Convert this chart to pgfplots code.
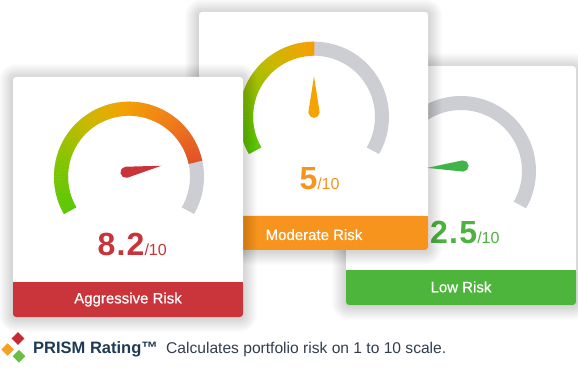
\documentclass[border=0pt]{standalone}
\usepackage{pgfplots}
\pgfplotsset{compat=1.18}
\usepackage{fontspec}
\setmainfont{Liberation Sans}
\newfontfamily\numfont{Liberation Sans}[LetterSpace=4]
\newfontfamily\medfont{Liberation Sans}[FakeBold=0.7]

\definecolor{cardred}{RGB}{201,53,58}
\definecolor{cardorange}{RGB}{247,148,29}
\definecolor{cardgreen}{RGB}{77,181,60}
\definecolor{numred}{RGB}{200,52,58}
\definecolor{numorange}{RGB}{247,148,29}
\definecolor{numgreen}{RGB}{76,178,64}
\definecolor{needlered}{RGB}{200,52,58}
\definecolor{needleorange}{RGB}{244,163,0}
\definecolor{needlegreen}{RGB}{64,180,72}
\definecolor{gaugegray}{RGB}{205,206,211}
\definecolor{navy}{RGB}{30,58,85}
\definecolor{footgray}{RGB}{50,62,78}
\definecolor{logored}{RGB}{198,43,53}
\definecolor{logoorange}{RGB}{244,160,36}
\definecolor{logogreen}{RGB}{107,190,69}
% gradient stops along the gauge (0 = left end, 1000 = right end)
\definecolor{s0}{RGB}{92,200,5}
\definecolor{s1}{RGB}{140,196,0}
\definecolor{s2}{RGB}{205,184,0}
\definecolor{s3}{RGB}{243,162,0}
\definecolor{s4}{RGB}{240,126,24}
\definecolor{s5}{RGB}{226,82,40}
\definecolor{s6}{RGB}{210,55,50}

\foreach \i in {0,...,95}{%
  \pgfmathsetmacro\tv{\i*10.5263}%
  \ifdim\tv pt<200pt \def\ca{s0}\def\cb{s1}\pgfmathtruncatemacro\p{\tv/2}%
  \else\ifdim\tv pt<350pt \def\ca{s1}\def\cb{s2}\pgfmathtruncatemacro\p{(\tv-200)/1.5}%
  \else\ifdim\tv pt<480pt \def\ca{s2}\def\cb{s3}\pgfmathtruncatemacro\p{(\tv-350)/1.3}%
  \else\ifdim\tv pt<650pt \def\ca{s3}\def\cb{s4}\pgfmathtruncatemacro\p{(\tv-480)/1.7}%
  \else\ifdim\tv pt<820pt \def\ca{s4}\def\cb{s5}\pgfmathtruncatemacro\p{(\tv-650)/1.7}%
  \else \def\ca{s5}\def\cb{s6}\pgfmathtruncatemacro\p{min(100,(\tv-820)/1.8)}%
  \fi\fi\fi\fi\fi
  \xglobal\colorlet{seg\i}{\cb!\p!\ca}%
}

% gauge values
\def\valA{8.2}
\def\valB{5}
\def\valC{2.5}

\newcommand\card[6]{% x1 y1 x2 y2 bartop barcolor
  \foreach \k in {1,...,14}{%
    \pgfmathsetmacro\rr{3+\k}%
    \fill[black, opacity=0.011, rounded corners=\rr pt] (#1-\k,#2-\k-1) rectangle (#3+\k,#4+\k-1);
  }
  \fill[white, rounded corners=3pt] (#1,#2) rectangle (#3,#4);
  \fill[#6, rounded corners=3pt] (#1,#2) rectangle (#3,#5);
  \fill[#6] (#1,#2+4) rectangle (#3,#5);
}

\newcommand\gauge[3]{% cx cy value
  \draw[gaugegray, line width=14pt] (#1,#2) ++(210:68pt) arc[start angle=210, end angle=-30, radius=68pt];
  \pgfmathtruncatemacro\nseg{round(#3*9.6)-1}%
  \foreach \i in {0,...,\nseg}{%
    \draw[color=seg\i, line width=14pt] (#1,#2) ++({210-2.5*\i}:68pt) arc[start angle={210-2.5*\i}, end angle={210-2.5*(\i+1)-0.3}, radius=68pt];
  }
}

\pgfdeclareplotmark{needle}{%
  \pgfpathcircle{\pgfpointorigin}{5.6pt}%
  \pgfusepathqfill
  \pgfpathmoveto{\pgfpoint{0.9pt}{5.5pt}}%
  \pgfpathlineto{\pgfpoint{36pt}{0pt}}%
  \pgfpathlineto{\pgfpoint{0.9pt}{-5.5pt}}%
  \pgfpathclose
  \pgfusepathqfill
}

\newcommand\score[2]{{\numfont\fontsize{32}{32}\selectfont\bfseries #1}{\fontsize{16}{16}\selectfont /10}}

\begin{document}
\begin{tikzpicture}[x=1pt,y=1pt]
\useasboundingbox (0,0) rectangle (578,367);
\fill[white] (0,0) rectangle (578,367);

% ---- card 3 (back): Low Risk
\card{346}{62}{576}{301}{97}{cardgreen}
\gauge{461}{196}{\valC}
\node[anchor=base west, inner sep=0, text=numgreen] at (430,123.7) {\score{2.5}{}};
\node[anchor=base, inner sep=0, text=white, font=\medfont\fontsize{15}{18}\selectfont] at (461,74.7) {Low Risk};

% ---- card 2 (middle): Moderate Risk
\card{199}{117}{428}{355}{151}{cardorange}
\gauge{314}{250.3}{\valB}
\node[anchor=base west, inner sep=0, text=numorange] at (299.3,177.7) {\score{5}{}};
\node[anchor=base, inner sep=0, text=white, font=\medfont\fontsize{15}{18}\selectfont] at (314,127) {Moderate Risk};

% ---- card 1 (front): Aggressive Risk
\card{13}{50}{243}{290}{85}{cardred}
\gauge{129}{190.3}{\valA}
\node[anchor=base west, inner sep=0, text=numred] at (97.3,111.5) {\score{8.2}{}};
\node[anchor=base, inner sep=0, text=white, font=\medfont\fontsize{15}{18}\selectfont] at (128,63.6) {Aggressive Risk};

% ---- footer
\fill[logored] (18,28.5) ++(0,6.3) -- ++(6.3,-6.3) -- ++(-6.3,-6.3) -- ++(-6.3,6.3) -- cycle;
\fill[logoorange] (7.6,17.5) ++(0,6.3) -- ++(6.3,-6.3) -- ++(-6.3,-6.3) -- ++(-6.3,6.3) -- cycle;
\fill[logogreen] (19,10.8) ++(0,6.3) -- ++(6.3,-6.3) -- ++(-6.3,-6.3) -- ++(-6.3,6.3) -- cycle;
\node[anchor=base west, inner sep=0, text=navy, font=\fontsize{16.5}{18}\selectfont\bfseries] at (33,13.7) {PRISM Rating™};
\node[anchor=base west, inner sep=0, text=footgray, font=\fontsize{15.6}{18}\selectfont] at (166,13.7) {Calculates portfolio risk on 1 to 10 scale.};

% ---- needles (data) through the axis
\begin{axis}[at={(0,0)}, anchor=south west, width=578pt, height=367pt, scale only axis,
  xmin=0, xmax=578, ymin=0, ymax=367, hide axis, clip=false]
\addplot[color=needlered, only marks, mark=needle, mark options={rotate=10.5, draw=none, fill=needlered}] coordinates {(126,194.7)};
\addplot[color=needleorange, only marks, mark=needle, mark options={rotate=90, draw=none, fill=needleorange}] coordinates {(314,254.7)};
\addplot[color=needlegreen, only marks, mark=needle, mark options={rotate=183, draw=none, fill=needlegreen}] coordinates {(463,201)};
\end{axis}
\end{tikzpicture}
\end{document}
